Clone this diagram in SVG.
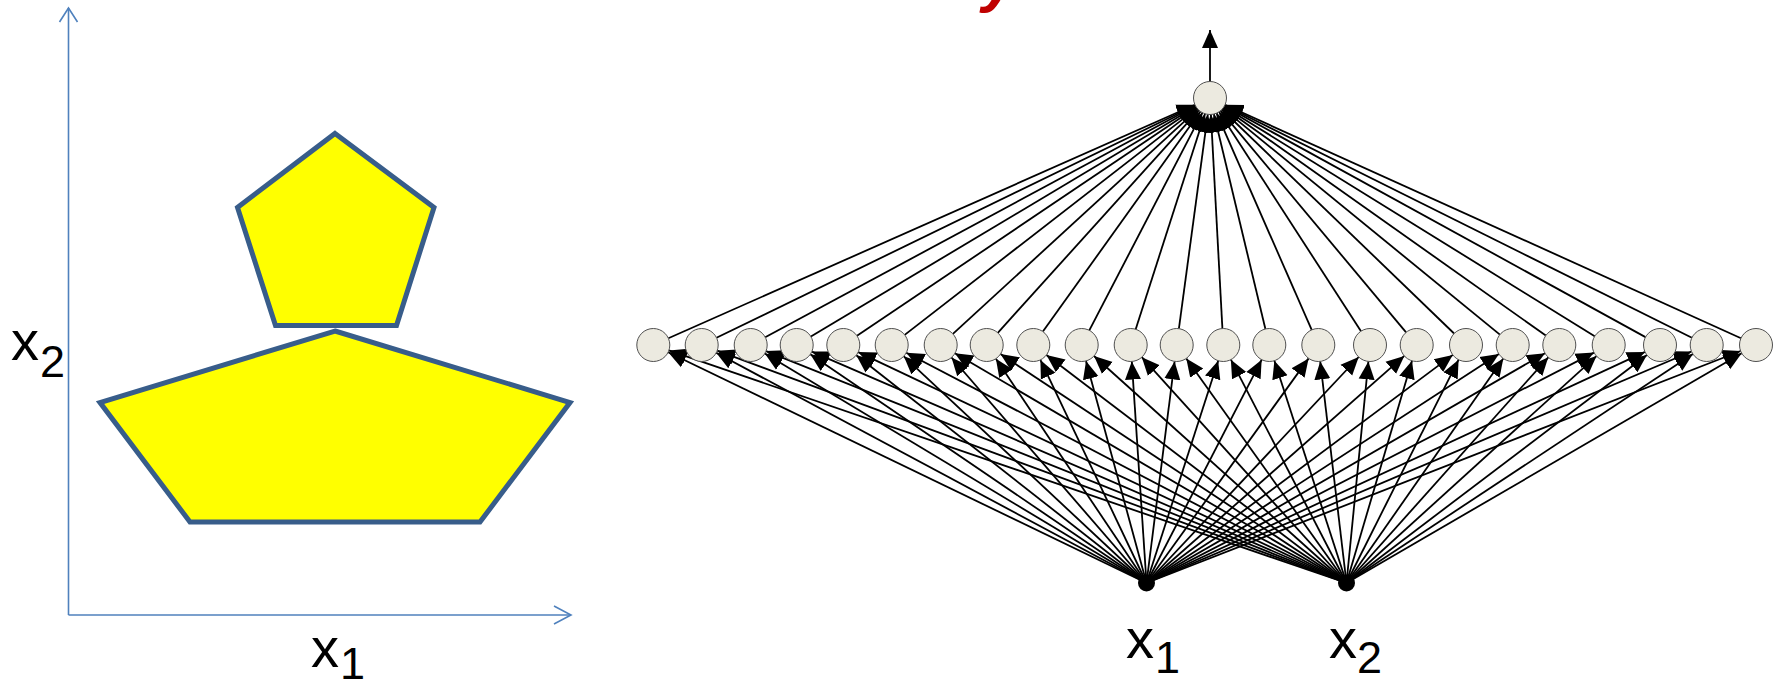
<svg xmlns="http://www.w3.org/2000/svg" width="1777" height="682" viewBox="0 0 1777 682">
<style>
.ax{stroke:#4F81BD;stroke-width:1.6;fill:none}
.pent{fill:#FFFF00;stroke:#385D8A;stroke-width:5;stroke-linejoin:miter}
.lbl{font-family:"Liberation Sans",Arial,sans-serif;fill:#000}
.main{font-size:56px}
.sub{font-size:45px}
.hid{fill:#ECEAE0;stroke:#505050;stroke-width:1}
.inp{fill:#000}
.c line{stroke:#000;stroke-width:1.8;marker-end:url(#ah)}
</style>
<defs>
<marker id="ah" viewBox="0 0 18 18" refX="18" refY="9" markerWidth="18" markerHeight="18" markerUnits="userSpaceOnUse" orient="auto">
<path d="M0,1 L18,9 L0,17 z" fill="#000"/>
</marker>
</defs>
<rect width="1777" height="682" fill="#fff"/>
<text class="lbl" x="982" y="0" font-size="62" font-weight="bold" font-style="italic" style="fill:#C00000">y</text>

<g id="plot">
<line class="ax" x1="68.5" y1="615" x2="68.5" y2="8"/>
<polyline class="ax" points="59.5,22 68.5,8 77.5,22"/>
<line class="ax" x1="68.5" y1="615" x2="571" y2="615"/>
<polyline class="ax" points="554,606 571,615 554,624"/>
<polygon id="pentLarge" class="pent" points="335,331 570,402.5 480,522 190,522 100,402.5"/>
<polygon id="pentSmall" class="pent" points="335,133.5 434,207.5 396.5,325.5 275.5,325.5 237.5,207.5"/>
<text class="lbl"><tspan class="main" x="11" y="360">x</tspan><tspan class="sub" x="40" y="377">2</tspan></text>
<text class="lbl"><tspan class="main" x="311" y="667">x</tspan><tspan class="sub" x="340" y="679">1</tspan></text>
</g>

<g id="connectors" class="c">
<line x1="1210" y1="81.5" x2="1210" y2="30"/>
<line x1="1146.5" y1="583" x2="668.2" y2="352.2"/>
<line x1="1146.5" y1="583" x2="716.2" y2="352.8"/>
<line x1="1146.5" y1="583" x2="764.8" y2="353.5"/>
<line x1="1146.5" y1="583" x2="810.3" y2="354.3"/>
<line x1="1146.5" y1="583" x2="856.3" y2="355.2"/>
<line x1="1146.5" y1="583" x2="903.8" y2="356.3"/>
<line x1="1146.5" y1="583" x2="951.5" y2="357.5"/>
<line x1="1146.5" y1="583" x2="995.9" y2="358.7"/>
<line x1="1146.5" y1="583" x2="1040.4" y2="359.9"/>
<line x1="1146.5" y1="583" x2="1086.0" y2="360.9"/>
<line x1="1146.5" y1="583" x2="1131.8" y2="361.5"/>
<line x1="1146.5" y1="583" x2="1174.6" y2="361.4"/>
<line x1="1146.5" y1="583" x2="1218.2" y2="360.7"/>
<line x1="1146.5" y1="583" x2="1261.7" y2="359.7"/>
<line x1="1146.5" y1="583" x2="1308.6" y2="358.4"/>
<line x1="1146.5" y1="583" x2="1358.7" y2="357.0"/>
<line x1="1146.5" y1="583" x2="1404.3" y2="355.9"/>
<line x1="1146.5" y1="583" x2="1452.8" y2="354.9"/>
<line x1="1146.5" y1="583" x2="1498.9" y2="354.0"/>
<line x1="1146.5" y1="583" x2="1545.0" y2="353.2"/>
<line x1="1146.5" y1="583" x2="1594.0" y2="352.6"/>
<line x1="1146.5" y1="583" x2="1645.0" y2="351.9"/>
<line x1="1146.5" y1="583" x2="1691.5" y2="351.5"/>
<line x1="1146.5" y1="583" x2="1740.6" y2="351.0"/>
<line x1="1346.5" y1="583" x2="668.9" y2="350.4"/>
<line x1="1346.5" y1="583" x2="717.2" y2="350.7"/>
<line x1="1346.5" y1="583" x2="766.0" y2="351.1"/>
<line x1="1346.5" y1="583" x2="811.8" y2="351.6"/>
<line x1="1346.5" y1="583" x2="858.2" y2="352.1"/>
<line x1="1346.5" y1="583" x2="906.3" y2="352.7"/>
<line x1="1346.5" y1="583" x2="954.9" y2="353.3"/>
<line x1="1346.5" y1="583" x2="1000.5" y2="354.1"/>
<line x1="1346.5" y1="583" x2="1046.4" y2="355.0"/>
<line x1="1346.5" y1="583" x2="1094.0" y2="356.0"/>
<line x1="1346.5" y1="583" x2="1141.8" y2="357.2"/>
<line x1="1346.5" y1="583" x2="1186.3" y2="358.4"/>
<line x1="1346.5" y1="583" x2="1230.9" y2="359.7"/>
<line x1="1346.5" y1="583" x2="1274.4" y2="360.7"/>
<line x1="1346.5" y1="583" x2="1320.2" y2="361.4"/>
<line x1="1346.5" y1="583" x2="1368.4" y2="361.4"/>
<line x1="1346.5" y1="583" x2="1412.0" y2="360.8"/>
<line x1="1346.5" y1="583" x2="1458.6" y2="359.7"/>
<line x1="1346.5" y1="583" x2="1503.3" y2="358.5"/>
<line x1="1346.5" y1="583" x2="1548.3" y2="357.3"/>
<line x1="1346.5" y1="583" x2="1596.5" y2="356.1"/>
<line x1="1346.5" y1="583" x2="1646.9" y2="355.0"/>
<line x1="1346.5" y1="583" x2="1692.9" y2="354.1"/>
<line x1="1346.5" y1="583" x2="1741.7" y2="353.3"/>
<line x1="668.4" y1="338.3" x2="1194.9" y2="104.7"/>
<line x1="716.5" y1="337.8" x2="1195.2" y2="105.2"/>
<line x1="765.2" y1="337.2" x2="1195.5" y2="105.8"/>
<line x1="810.9" y1="336.5" x2="1195.8" y2="106.5"/>
<line x1="857.0" y1="335.8" x2="1196.3" y2="107.2"/>
<line x1="904.7" y1="334.9" x2="1197.0" y2="108.1"/>
<line x1="952.9" y1="333.8" x2="1197.8" y2="109.2"/>
<line x1="997.8" y1="332.8" x2="1198.9" y2="110.2"/>
<line x1="1042.9" y1="331.6" x2="1200.4" y2="111.4"/>
<line x1="1089.3" y1="330.4" x2="1202.4" y2="112.6"/>
<line x1="1135.7" y1="329.3" x2="1205.0" y2="113.7"/>
<line x1="1178.9" y1="328.6" x2="1207.8" y2="114.4"/>
<line x1="1222.4" y1="328.5" x2="1210.9" y2="114.5"/>
<line x1="1265.4" y1="329.0" x2="1213.9" y2="114.0"/>
<line x1="1311.7" y1="329.9" x2="1216.6" y2="113.1"/>
<line x1="1361.0" y1="331.2" x2="1219.0" y2="111.8"/>
<line x1="1406.1" y1="332.3" x2="1220.6" y2="110.7"/>
<line x1="1454.1" y1="333.5" x2="1221.9" y2="109.5"/>
<line x1="1499.9" y1="334.6" x2="1222.8" y2="108.4"/>
<line x1="1545.8" y1="335.5" x2="1223.5" y2="107.5"/>
<line x1="1594.7" y1="336.3" x2="1224.0" y2="106.7"/>
<line x1="1645.5" y1="337.1" x2="1224.5" y2="105.9"/>
<line x1="1691.9" y1="337.7" x2="1224.8" y2="105.3"/>
<line x1="1741.0" y1="338.2" x2="1225.0" y2="104.8"/>
</g>

<g id="output"><circle class="hid" cx="1210" cy="98" r="16.5"/></g>
<g id="h1"><circle class="hid" cx="653.3" cy="345" r="16.5"/></g>
<g id="h2"><circle class="hid" cx="701.7" cy="345" r="16.5"/></g>
<g id="h3"><circle class="hid" cx="750.7" cy="345" r="16.5"/></g>
<g id="h4"><circle class="hid" cx="796.7" cy="345" r="16.5"/></g>
<g id="h5"><circle class="hid" cx="843.3" cy="345" r="16.5"/></g>
<g id="h6"><circle class="hid" cx="891.7" cy="345" r="16.5"/></g>
<g id="h7"><circle class="hid" cx="940.7" cy="345" r="16.5"/></g>
<g id="h8"><circle class="hid" cx="986.7" cy="345" r="16.5"/></g>
<g id="h9"><circle class="hid" cx="1033.3" cy="345" r="16.5"/></g>
<g id="h10"><circle class="hid" cx="1081.7" cy="345" r="16.5"/></g>
<g id="h11"><circle class="hid" cx="1130.7" cy="345" r="16.5"/></g>
<g id="h12"><circle class="hid" cx="1176.7" cy="345" r="16.5"/></g>
<g id="h13"><circle class="hid" cx="1223.3" cy="345" r="16.5"/></g>
<g id="h14"><circle class="hid" cx="1269.3" cy="345" r="16.5"/></g>
<g id="h15"><circle class="hid" cx="1318.3" cy="345" r="16.5"/></g>
<g id="h16"><circle class="hid" cx="1370" cy="345" r="16.5"/></g>
<g id="h17"><circle class="hid" cx="1416.7" cy="345" r="16.5"/></g>
<g id="h18"><circle class="hid" cx="1466" cy="345" r="16.5"/></g>
<g id="h19"><circle class="hid" cx="1512.7" cy="345" r="16.5"/></g>
<g id="h20"><circle class="hid" cx="1559.3" cy="345" r="16.5"/></g>
<g id="h21"><circle class="hid" cx="1608.7" cy="345" r="16.5"/></g>
<g id="h22"><circle class="hid" cx="1660" cy="345" r="16.5"/></g>
<g id="h23"><circle class="hid" cx="1706.7" cy="345" r="16.5"/></g>
<g id="h24"><circle class="hid" cx="1756" cy="345" r="16.5"/></g>
<g id="in1">
<circle class="inp" cx="1146.5" cy="583" r="8.5"/>
<text class="lbl"><tspan class="main" x="1126" y="658">x</tspan><tspan class="sub" x="1155" y="673">1</tspan></text>
</g>
<g id="in2">
<circle class="inp" cx="1346.5" cy="583" r="8.5"/>
<text class="lbl"><tspan class="main" x="1329" y="658">x</tspan><tspan class="sub" x="1357" y="673">2</tspan></text>
</g>
</svg>
